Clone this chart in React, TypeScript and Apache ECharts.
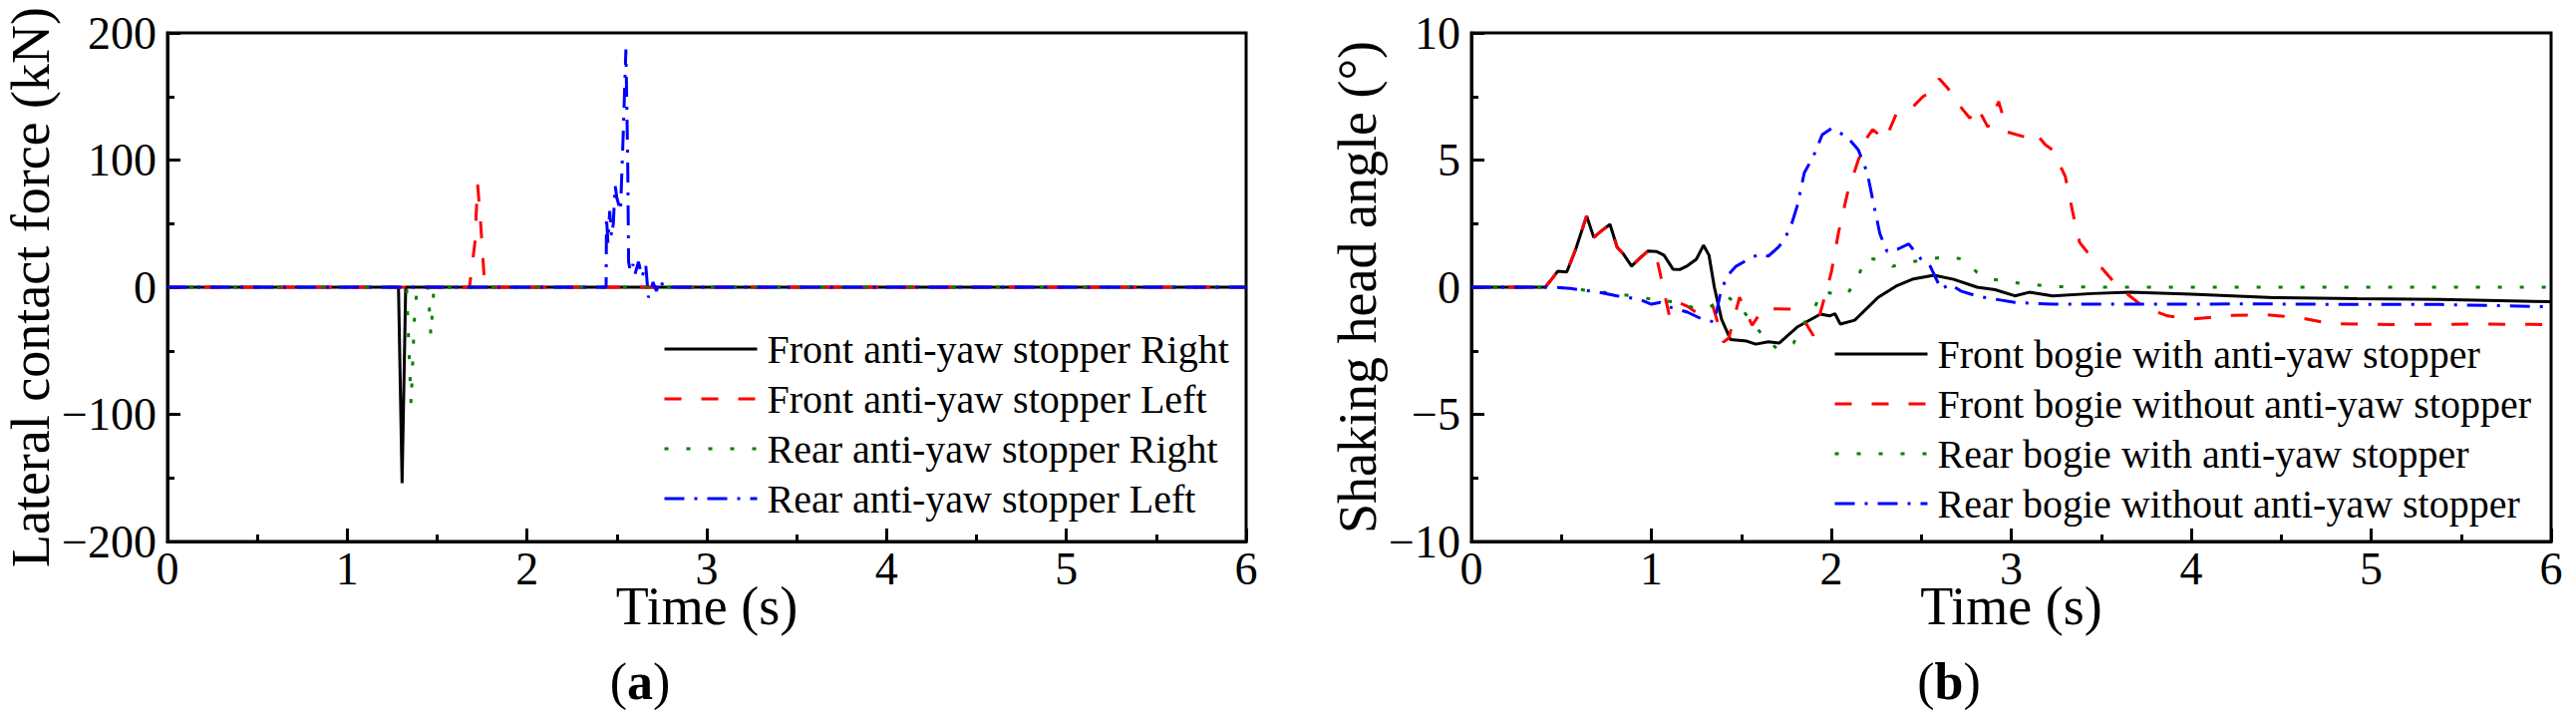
import React, { useEffect, useRef } from "react";
import * as echarts from "echarts";

const FONT = "'Liberation Serif', 'Times New Roman', Times, serif";

// ---------- Panel (a): lateral contact force (kN) ----------
const aNames = [
  "Front anti-yaw stopper Right",
  "Front anti-yaw stopper Left",
  "Rear anti-yaw stopper Right",
  "Rear anti-yaw stopper Left",
];
const aFrontRightT = [0, 1.285, 1.305, 1.325, 6];
const aFrontRightV = [0, 0, -154, 0, 0];
const aFrontLeftT = [0, 1.68, 1.71, 1.725, 1.74, 1.765, 6];
const aFrontLeftV = [0, 0, 35, 81, 55, 0, 0];
const aRearRightT = [0, 1.33, 1.355, 1.375, 1.39, 1.45, 1.465, 1.48, 1.5, 6];
const aRearRightV = [0, 0, -92, -20, 0, 0, -38, -5, 0, 0];
const aRearLeftT = [0, 2.44, 2.442, 2.45, 2.46, 2.47, 2.48, 2.49, 2.5, 2.52, 2.535, 2.55, 2.56, 2.565, 2.575, 2.59, 2.6, 2.62, 2.64, 2.66, 2.675, 2.69, 2.7, 2.72, 2.74, 2.76, 2.8, 6];
const aRearLeftV = [0, 0, 55, 35, 60, 40, 50, 80, 70, 60, 120, 187, 100, 20, 12, 18, 10, 20, 8, 18, -8, -5, 4, -3, 6, 0, 0, 0];

// ---------- Panel (b): shaking head angle (deg) ----------
const bNames = [
  "Front bogie with anti-yaw stopper",
  "Front bogie without anti-yaw stopper",
  "Rear bogie with anti-yaw stopper",
  "Rear bogie without anti-yaw stopper",
];
const bFrontWithT = [0, 0.41, 0.45, 0.48, 0.53, 0.58, 0.64, 0.68, 0.72, 0.77, 0.81, 0.845, 0.89, 0.93, 0.98, 1.03, 1.07, 1.12, 1.16, 1.2, 1.25, 1.29, 1.32, 1.35, 1.39, 1.44, 1.53, 1.58, 1.65, 1.71, 1.81, 1.94, 1.99, 2.02, 2.05, 2.13, 2.26, 2.36, 2.45, 2.57, 2.68, 2.81, 2.91, 3.02, 3.1, 3.23, 3.45, 3.66, 4.0, 4.46, 4.92, 5.38, 6.0];
const bFrontWithV = [0, 0, 0.35, 0.63, 0.6, 1.5, 2.8, 1.96, 2.2, 2.47, 1.57, 1.3, 0.83, 1.1, 1.42, 1.4, 1.26, 0.71, 0.7, 0.84, 1.1, 1.65, 1.26, 0, -1.26, -2.06, -2.12, -2.24, -2.15, -2.2, -1.57, -1.06, -1.13, -1.04, -1.45, -1.3, -0.4, 0.04, 0.31, 0.47, 0.31, 0, -0.1, -0.34, -0.2, -0.34, -0.25, -0.2, -0.27, -0.41, -0.45, -0.48, -0.57];
const bFrontWithoutT = [0, 0.41, 0.45, 0.48, 0.53, 0.58, 0.64, 0.68, 0.72, 0.77, 0.81, 0.845, 0.89, 0.93, 0.98, 1.02, 1.05, 1.1, 1.15, 1.2, 1.25, 1.3, 1.34, 1.4, 1.43, 1.49, 1.56, 1.62, 1.7, 1.79, 1.84, 1.9, 1.94, 2.0, 2.04, 2.09, 2.15, 2.2, 2.23, 2.3, 2.36, 2.44, 2.51, 2.56, 2.6, 2.65, 2.7, 2.77, 2.81, 2.87, 2.93, 2.98, 3.08, 3.13, 3.19, 3.23, 3.3, 3.35, 3.38, 3.42, 3.51, 3.59, 3.74, 3.87, 3.99, 4.23, 4.41, 4.6, 4.78, 5.14, 5.6, 6.0];
const bFrontWithoutV = [0, 0, 0.35, 0.63, 0.6, 1.5, 2.8, 1.96, 2.2, 2.47, 1.57, 1.3, 0.83, 1.1, 1.42, 1.45, 0.5, -1.13, -0.6, -0.75, -1.0, -0.86, -0.7, -2.16, -2.0, -0.4, -1.5, -0.86, -0.85, -0.86, -1.2, -1.9, -0.98, 0.58, 2.15, 3.7, 5.0, 5.9, 6.2, 5.8, 6.8, 7.0, 7.5, 7.7, 8.2, 7.8, 7.25, 6.65, 7.1, 6.3, 7.3, 6.1, 5.9, 6.1, 5.6, 5.4, 4.36, 2.67, 1.76, 1.4, 0.7, 0.04, -0.8, -1.13, -1.26, -1.11, -1.08, -1.2, -1.44, -1.47, -1.45, -1.47];
const bRearWithT = [0, 0.45, 0.55, 0.73, 0.9, 1.0, 1.15, 1.25, 1.32, 1.42, 1.49, 1.55, 1.62, 1.7, 1.79, 1.84, 1.9, 1.95, 2.02, 2.09, 2.15, 2.19, 2.25, 2.34, 2.45, 2.54, 2.65, 2.73, 2.81, 2.9, 3.02, 3.23, 3.6, 4.0, 5.0, 6.0];
const bRearWithV = [0, 0, -0.05, -0.2, -0.35, -0.47, -0.6, -0.85, -0.8, -0.35, -0.75, -1.3, -1.9, -2.43, -2.2, -1.5, -0.9, -0.16, -0.27, -0.27, 0.43, 1.13, 1.1, 0.82, 1.0, 1.1, 1.2, 1.1, 0.58, 0.31, 0.18, 0.02, 0, 0, 0, 0];
const bRearWithoutT = [0, 0.45, 0.55, 0.71, 0.81, 0.93, 1.0, 1.05, 1.11, 1.2, 1.28, 1.35, 1.385, 1.42, 1.47, 1.54, 1.6, 1.65, 1.71, 1.77, 1.81, 1.85, 1.9, 1.95, 2.0, 2.04, 2.09, 2.15, 2.2, 2.23, 2.27, 2.31, 2.37, 2.43, 2.51, 2.55, 2.61, 2.66, 2.72, 2.81, 2.91, 3.02, 3.23, 3.55, 3.97, 4.23, 4.46, 4.92, 5.38, 6.0];
const bRearWithoutV = [0, 0, -0.05, -0.2, -0.34, -0.47, -0.67, -0.6, -0.8, -0.98, -1.25, -1.37, -0.2, 0.43, 0.82, 1.1, 1.3, 1.22, 1.6, 2.27, 3.18, 4.5, 5.14, 6.0, 6.24, 6.1, 5.9, 5.4, 4.5, 3.45, 2.1, 1.4, 1.5, 1.7, 1.0, 0.82, -0.08, 0.12, -0.15, -0.35, -0.47, -0.6, -0.67, -0.67, -0.67, -0.66, -0.66, -0.68, -0.68, -0.77];

const xTickValues = [0, 1, 2, 3, 4, 5, 6];
const aYTicks = [-200, -100, 0, 100, 200];
const bYTicks = [-10, -5, 0, 5, 10];

const COLORS = ["#000000", "#ff0000", "#008000", "#0000ff"];
const DASHES: any[] = ["solid", [17, 20], [4, 18], [20, 10, 3, 10]];

function zip(t: number[], v: number[]) {
  return t.map((x, i) => [x, v[i]]);
}

function fmt(v: number) {
  return v < 0 ? "\u2212" + Math.abs(v) : String(v);
}

function xAxis(gridIndex: number) {
  return {
    type: "value",
    gridIndex,
    min: xTickValues[0],
    max: xTickValues[xTickValues.length - 1],
    interval: 1,
    name: "Time (s)",
    nameLocation: "middle",
    nameGap: 47,
    nameMoveOverlap: false,
    nameTextStyle: { fontFamily: FONT, fontSize: 54, lineHeight: 36, color: "#000" },
    axisLine: { show: true, onZero: false, lineStyle: { color: "#000", width: 3 } },
    axisTick: { show: true, inside: true, length: 13, lineStyle: { color: "#000", width: 3 } },
    minorTick: { show: true, splitNumber: 2, length: 7, lineStyle: { color: "#000", width: 3 } },
    axisLabel: { fontFamily: FONT, fontSize: 46, lineHeight: 38, color: "#000", margin: 8, formatter: fmt },
    splitLine: { show: false },
    minorSplitLine: { show: false },
  };
}

function yAxis(gridIndex: number, ticks: number[], name: string, gap: number) {
  return {
    type: "value",
    gridIndex,
    min: ticks[0],
    max: ticks[ticks.length - 1],
    interval: ticks[1] - ticks[0],
    name,
    nameLocation: "middle",
    nameGap: gap,
    nameTextStyle: { fontFamily: FONT, fontSize: 54, color: "#000" },
    axisLine: { show: true, onZero: false, lineStyle: { color: "#000", width: 3 } },
    axisTick: { show: true, inside: true, length: 13, lineStyle: { color: "#000", width: 3 } },
    minorTick: { show: true, splitNumber: 2, length: 7, lineStyle: { color: "#000", width: 3 } },
    axisLabel: { fontFamily: FONT, fontSize: 46, color: "#000", margin: 11, formatter: fmt },
    splitLine: { show: false },
    minorSplitLine: { show: false },
  };
}

function series(name: string, data: number[][], idx: number, k: number) {
  return {
    type: "line",
    name,
    xAxisIndex: idx,
    yAxisIndex: idx,
    data,
    symbol: "none",
    showSymbol: false,
    animation: false,
    clip: true,
    z: 2 + k,
    itemStyle: { color: COLORS[k] },
    lineStyle: { color: COLORS[k], width: 3, type: DASHES[k] },
  };
}

function legend(names: string[], left: number, top: number) {
  return {
    orient: "vertical",
    left,
    top,
    itemWidth: 93,
    itemHeight: 20,
    itemGap: 0,
    selectedMode: false,
    padding: 0,
    itemStyle: { opacity: 0, borderWidth: 0 },
    textStyle: { fontFamily: FONT, fontSize: 40, color: "#000", lineHeight: 50, padding: [0, 0, 0, 5] },
    data: names.map((n, k) => ({
      name: n,
      itemStyle: { opacity: 0, borderWidth: 0 },
      lineStyle: { color: COLORS[k], width: 3, type: DASHES[k], opacity: 1 },
    })),
  };
}

export default function App() {
  const ref = useRef<HTMLDivElement>(null);
  useEffect(() => {
    document.body.style.margin = "0";
    if (!ref.current) return;
    const chart = echarts.init(ref.current, undefined, { renderer: "svg" });
    const aSeries = [
      zip(aFrontRightT, aFrontRightV),
      zip(aFrontLeftT, aFrontLeftV),
      zip(aRearRightT, aRearRightV),
      zip(aRearLeftT, aRearLeftV),
    ];
    const bSeries = [
      zip(bFrontWithT, bFrontWithV),
      zip(bFrontWithoutT, bFrontWithoutV),
      zip(bRearWithT, bRearWithV),
      zip(bRearWithoutT, bRearWithoutV),
    ];
    chart.setOption({
      animation: false,
      backgroundColor: "#ffffff",
      textStyle: { fontFamily: FONT },
      grid: [
        { left: 168, top: 33, width: 1082, height: 510, show: true, borderColor: "#000", borderWidth: 3, backgroundColor: "transparent" },
        { left: 1476, top: 33, width: 1083, height: 510, show: true, borderColor: "#000", borderWidth: 3, backgroundColor: "transparent" },
      ],
      xAxis: [xAxis(0), xAxis(1)],
      yAxis: [
        yAxis(0, aYTicks, "Lateral contact force (kN)", 100),
        yAxis(1, bYTicks, "Shaking head angle (\u00b0)", 86),
      ],
      legend: [legend(aNames, 665, 325), legend(bNames, 1839, 330)],
      series: [
        ...aSeries.map((d, k) => series(aNames[k], d, 0, k)),
        ...bSeries.map((d, k) => series(bNames[k], d, 1, k)),
      ],
      graphic: [
        {
          type: "text",
          x: 642,
          y: 683,
          style: {
            text: "{p|(}{b|a}{p|)}",
            textAlign: "center",
            textVerticalAlign: "middle",
            rich: {
              p: { fontFamily: FONT, fontSize: 52, fill: "#000" },
              b: { fontFamily: FONT, fontSize: 52, fontWeight: "bold", fill: "#000" },
            },
          },
        },
        {
          type: "text",
          x: 1955,
          y: 683,
          style: {
            text: "{p|(}{b|b}{p|)}",
            textAlign: "center",
            textVerticalAlign: "middle",
            rich: {
              p: { fontFamily: FONT, fontSize: 52, fill: "#000" },
              b: { fontFamily: FONT, fontSize: 52, fontWeight: "bold", fill: "#000" },
            },
          },
        },
      ],
    });
    return () => chart.dispose();
  }, []);
  return <div ref={ref} style={{ width: 2584, height: 718 }} />;
}
